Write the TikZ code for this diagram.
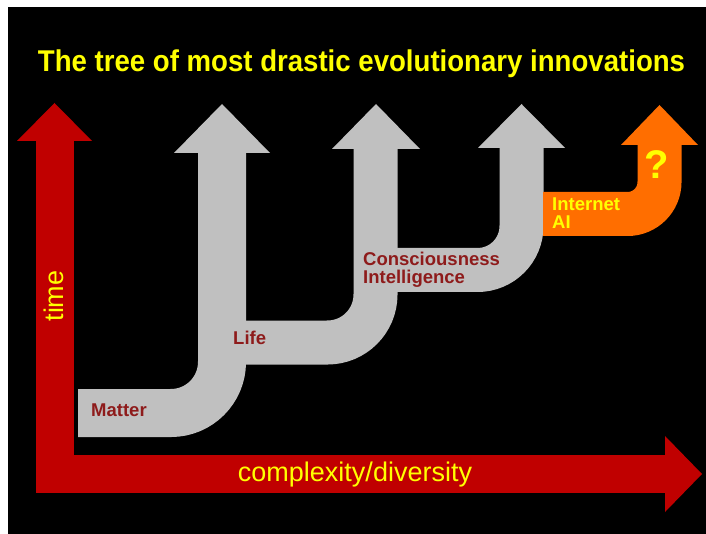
\documentclass[tikz,border=0pt]{standalone}
\usepackage{fontspec}
\setmainfont{Liberation Sans}
\usetikzlibrary{positioning}
\definecolor{axisred}{HTML}{C00000}
\definecolor{stemgrey}{HTML}{C0C0C0}
\definecolor{stemorange}{HTML}{FF6E00}
\definecolor{titleyellow}{HTML}{FFFF00}
\definecolor{labelred}{HTML}{8E1B1B}

\begin{document}
\begin{tikzpicture}[x=1pt,y=-1pt, every node/.style={inner sep=0pt},
  band/.style={line width=#1,line join=miter},
  ttl/.style={text=titleyellow,font=\bfseries\fontsize{30}{32}\selectfont},
  axlab/.style={text=titleyellow,font=\fontsize{27}{29}\selectfont},
  stage/.style={text=labelred,font=\bfseries\fontsize{18.5}{18}\selectfont,align=left,anchor=west}]
  \useasboundingbox (0,0) rectangle (706,534);
  \fill[white] (0,0) rectangle (706,534);
  \fill[black] (8,7) rectangle (706,534);
  % time / complexity axes
  \coordinate (origin) at (54.5,474);
  \draw[band=38pt,axisred] (54.5,141) -- (origin) -- (666,474);
  \fill[axisred] (17,141) -- (54.5,103) -- (92,141) -- cycle;
  \fill[axisred] (665,436) -- (702,474) -- (665,512) -- cycle;
  % the four stems
  \draw[band=48pt,stemgrey,rounded corners=51pt] (78,413) -- (222,413) -- (222,153);
  \fill[stemgrey] (174,153) -- (222,104) -- (270,153) -- cycle;
  \draw[band=44pt,stemgrey,rounded corners=48pt] (240,342.5) -- (375.5,342.5) -- (375.5,149);
  \fill[stemgrey] (332,149) -- (376,104) -- (420,149) -- cycle;
  \draw[band=44pt,stemgrey,rounded corners=44pt] (392,270) -- (521.5,270) -- (521.5,148);
  \fill[stemgrey] (478,148) -- (521.5,104) -- (565,148) -- cycle;
  \draw[band=44pt,stemorange,rounded corners=32pt] (543,214) -- (659.5,214) -- (659.5,145);
  \fill[stemorange] (621,145) -- (659.5,105) -- (698,145) -- cycle;
  % texts
  \node[ttl] (title) at (361.5,64) {\scalebox{0.92}[1]{The tree of most drastic evolutionary innovations}};
  \node[axlab,rotate=90] (time) at (54,296) {time};
  \node[axlab] (cplx) at (355,475) {complexity/diversity};
  \node[stage] (matter) at (91,410) {Matter};
  \node[stage] (life) at (233,338) {Life};
  \node[stage] (consc) at (363,270) {Consciousness\\Intelligence};
  \node[stage,text=titleyellow] (net) at (552,213) {Internet\\AI};
  \node[text=titleyellow,font=\bfseries\fontsize{40}{42}\selectfont] (what) at (657,165) {?};
\end{tikzpicture}
\end{document}
